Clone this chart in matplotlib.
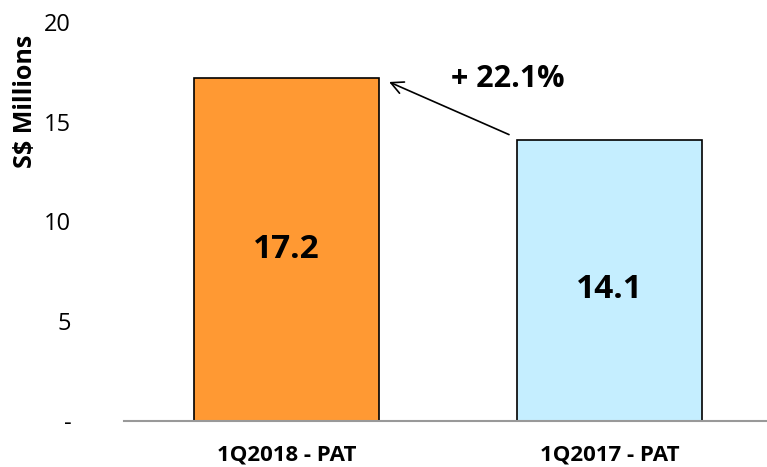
import matplotlib
matplotlib.use("Agg")
import matplotlib.pyplot as plt

categories = ["1Q2018 - PAT", "1Q2017 - PAT"]
values = [17.2, 14.1]
colors = ["#FF9933", "#C5EEFF"]
yticks = [0, 5, 10, 15, 20]
ytick_labels = ["-", "5", "10", "15", "20"]
growth_label = "+ 22.1%"

plt.rcParams["font.family"] = ["Open Sans", "DejaVu Sans"]

fig = plt.figure(figsize=(7.67, 4.67), dpi=100)
ax = fig.add_axes([124 / 767, 1 - 421 / 467, 643 / 767, 399 / 467])

x = list(range(len(categories)))
bars = ax.bar(x, values, width=0.573, color=colors, edgecolor="black", linewidth=1.2, zorder=2)

ax.set_xlim(-0.503, 1.488)
ax.set_ylim(0, 20)
ax.set_yticks(yticks)
ax.set_yticklabels(ytick_labels, fontsize=17)
ax.set_xticks(x)
ax.set_xticklabels(categories, fontsize=16, fontweight="bold")
ax.tick_params(length=0)
ax.tick_params(axis="y", pad=38)
ax.tick_params(axis="x", pad=17)
for lab in ax.get_yticklabels():
    lab.set_horizontalalignment("right")

for s in ["top", "right", "left"]:
    ax.spines[s].set_visible(False)
ax.spines["bottom"].set_color("#999999")
ax.spines["bottom"].set_linewidth(1.5)

ax.set_ylabel("S$ Millions", fontsize=18, fontweight="bold")
ax.yaxis.set_label_coords(-0.134, 0.80)

label_y = [8.6, 6.6]
for xi, v, ly in zip(x, values, label_y):
    ax.text(xi, ly, f"{v:.1f}", ha="center", va="center", fontsize=24, fontweight="bold")

ax.annotate("", xy=(0.31, values[0] - 0.15), xytext=(0.697, values[1] + 0.2),
            arrowprops=dict(arrowstyle="->", color="black", lw=1.2, mutation_scale=22))
ax.text(0.685, 17.15, growth_label, ha="center", va="center", fontsize=22, fontweight="bold")

fig.savefig("out.png", dpi=100)
